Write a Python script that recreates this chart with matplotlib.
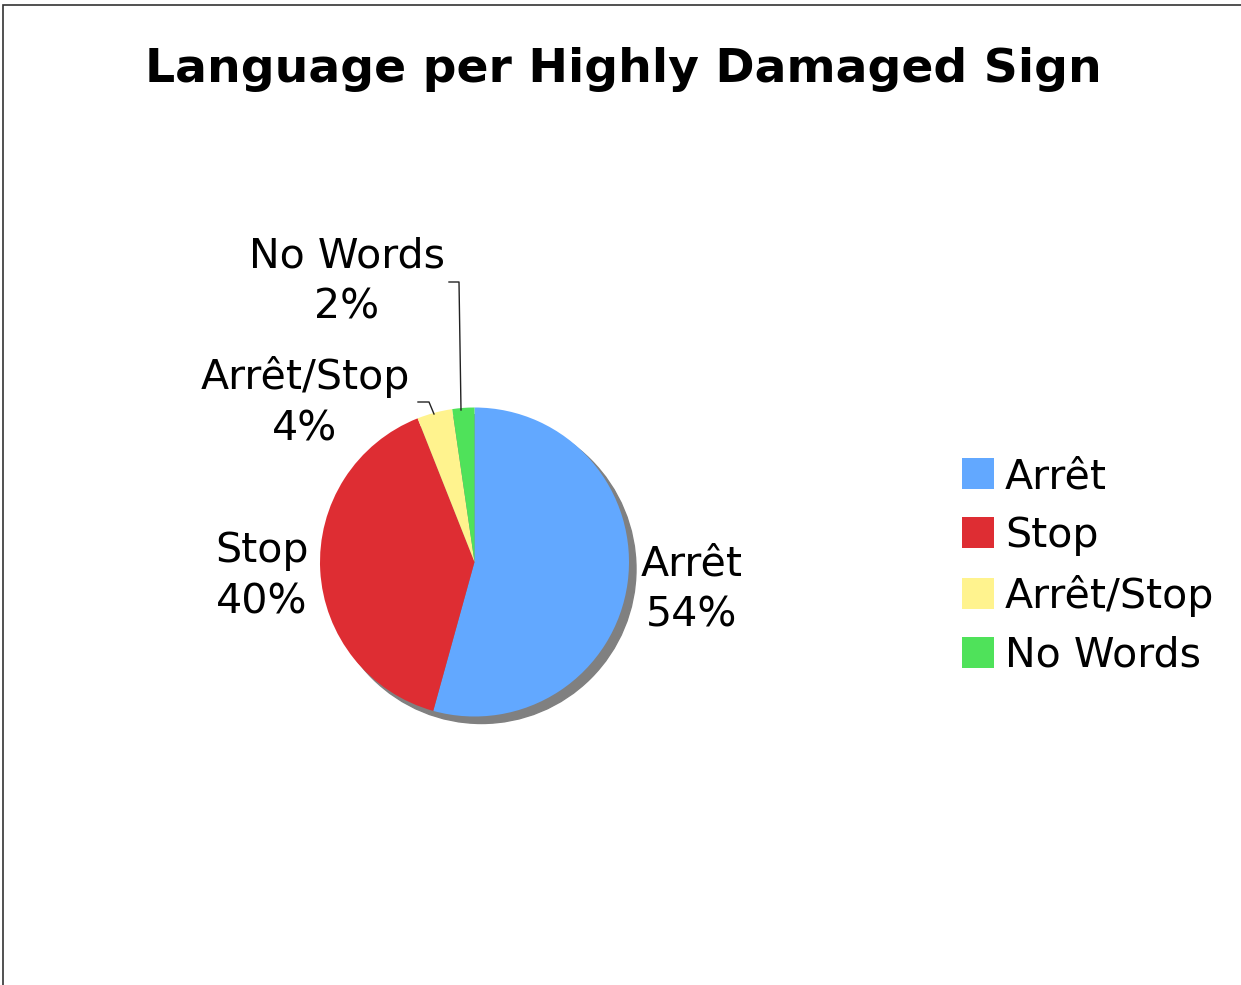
import matplotlib

matplotlib.use("Agg")
import matplotlib.pyplot as plt
from matplotlib.lines import Line2D
from matplotlib.patches import Circle, Patch, Rectangle

# data
labels = ["Arrêt", "Stop", "Arrêt/Stop", "No Words"]
values = [54.3, 39.7, 3.7, 2.3]
colors = ["#62a8ff", "#de2d33", "#fff38e", "#4fe25a"]

W, H = 1241, 985
fig = plt.figure(figsize=(W / 100, H / 100), dpi=100)
ax = fig.add_axes([0, 0, 1, 1])

# frame round the chart (top and left edges visible)
fig.add_artist(Rectangle((3 / W, -0.1), 1.2, (H - 5) / H + 0.1, transform=fig.transFigure,
                         fill=False, edgecolor="#333333", lw=1.2))

cx, cy, r = 474.5, H - 562, 154.5

# drop shadow
ax.add_patch(Circle((cx + 7, cy - 7), r, color="#808080", zorder=1))

wedges, _ = ax.pie(values, colors=colors, startangle=90, counterclock=False,
                   center=(cx, cy), radius=r, frame=True,
                   wedgeprops=dict(linewidth=0, zorder=2))
ax.set_xlim(0, W)
ax.set_ylim(0, H)
ax.set_aspect("equal")
ax.axis("off")

fs = 29.6
pct = [f"{v / sum(values) * 100:.0f}%" for v in values]
label_pos = [(692, H - 590), (262, H - 577), (305, H - 403), (347, H - 282)]
for lab, p, (x, y) in zip(labels, pct, label_pos):
    ax.text(x, y, f"{lab}\n{p}", ha="center", va="center", fontsize=fs,
            linespacing=1.38, zorder=4)

# leader lines for the small slices
ax.add_line(Line2D([449, 459, 461], [H - 282, H - 282, H - 410], color="#222222", lw=1, zorder=3))
ax.add_line(Line2D([418, 429, 434], [H - 402, H - 402, H - 414], color="#222222", lw=1, zorder=3))

fig.text(623 / W, 1 - 70 / H, "Language per Highly Damaged Sign", ha="center", va="center",
         fontsize=34, fontweight="bold")

handles = [Patch(facecolor=c, edgecolor="none") for c in colors]
fig.legend(handles, labels, loc="upper left", bbox_to_anchor=(962 / W, 1 - 457 / H),
           frameon=False, fontsize=fs, handlelength=0.78, handleheight=0.78,
           handletextpad=0.26, labelspacing=0.46, borderpad=0, borderaxespad=0)

fig.savefig("out.png", dpi=100)
